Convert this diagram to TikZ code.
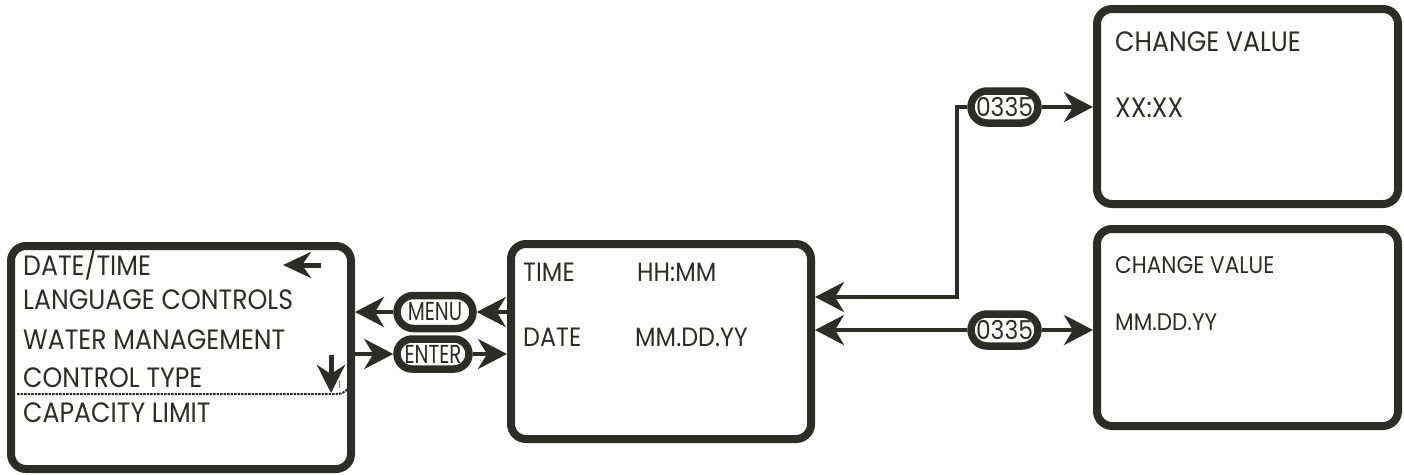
\documentclass[tikz,border=0pt]{standalone}
\usepackage{fontspec}
\setmainfont[FakeStretch=0.9]{Poppins}
\newfontfamily\pillfont[FakeStretch=0.76]{Poppins}
\newfontfamily\codefont[FakeStretch=0.9]{Poppins}
\usepackage{tikz}
\usetikzlibrary{arrows.meta,positioning,shapes.misc,calc}
\definecolor{inkdark}{RGB}{45,45,40}

\begin{document}
\begin{tikzpicture}[x=1pt,y=-1pt,
  screen/.style={draw=inkdark,line width=8pt,rounded corners=15pt,inner sep=0pt},
  key/.style={draw=inkdark,line width=7.5pt,rounded rectangle,inner sep=0pt,
              minimum height=33pt,fill=white,text=inkdark,font=\pillfont\fontsize{26}{28}\selectfont},
  link/.style={draw=inkdark,line width=4.5pt,-{Stealth[length=29pt,width=30pt,inset=9pt]}},
  txt/.style={anchor=west,inner sep=0pt,text=inkdark},
  every node/.style={font=\fontsize{26.5}{28}\selectfont}]

  \useasboundingbox (0,0) rectangle (1404,474);

  % Screens
  \node[screen,minimum width=340pt,minimum height=223pt] (menu) at (181,357.5) {};
  \node[screen,minimum width=300pt,minimum height=195pt] (clock) at (661,341.5) {};
  \node[screen,minimum width=301pt,minimum height=195pt] (settime) at (1247.5,106.5) {};
  \node[screen,minimum width=301pt,minimum height=197pt] (setdate) at (1247.5,327.5) {};

  % Menu list
  \begin{scope}[every node/.style={font=\fontsize{28}{30}\selectfont}]
    \node[txt] (item1) at (23,265) {DATE/TIME};
    \node[txt] (item2) at (23,300) {LANGUAGE CONTROLS};
    \node[txt] (item3) at (23,340) {WATER MANAGEMENT};
    \node[txt] (item4) at (23,378) {CONTROL TYPE};
    \node[txt] (item5) at (23,413) {CAPACITY LIMIT};
  \end{scope}
  \node[txt,text=inkdark!70,font=\fontsize{10}{11}\selectfont] (page) at (338,385) {1};
  \draw[inkdark,line width=5pt,-{Stealth[length=28pt,width=26pt,inset=9pt]}] (321,265) -- (283,265);
  \draw[inkdark,line width=5pt,-{Stealth[length=28pt,width=28pt,inset=9pt]}] (331,355) -- (331,393);
  \draw[inkdark,line width=2pt,dash pattern=on 2.5pt off 1pt]
    (17,394) -- (336,394) to[out=0,in=-120] (348,388);

  % Clock screen
  \node[txt] (tlabel) at (523,272) {TIME};
  \node[txt] (tvalue) at (637,272) {HH:MM};
  \node[txt] (dlabel) at (523,337) {DATE};
  \node[txt] (dvalue) at (635,337) {MM.DD.YY};

  % Change value screens
  \node[txt,font=\fontsize{28}{30}\selectfont] (cvtop) at (1115,42) {CHANGE VALUE};
  \node[txt,font=\fontsize{28}{30}\selectfont] (xx) at (1115,108) {XX:XX};
  \node[txt,font=\fontsize{24}{26}\selectfont] (cvbot) at (1115,265) {CHANGE VALUE};
  \node[txt,font=\fontsize{24}{26}\selectfont] (mdy) at (1115,322) {MM.DD.YY};

  % Keys
  \node[key,minimum width=76pt] (menukey) at (435,312) {MENU};
  \node[key,minimum width=72pt,minimum height=30pt] (enterkey) at (433,354) {ENTER};
  \node[key,minimum width=67pt,minimum height=32pt,font=\codefont\fontsize{26}{28}\selectfont] (codeA) at (1004.5,107) {0335};
  \node[key,minimum width=67pt,minimum height=32pt,font=\codefont\fontsize{26}{28}\selectfont] (codeB) at (1004.5,330) {0335};

  % Connectors
  \draw[link] (menukey -| clock.west) -- (menukey.east);
  \draw[link] (menukey.west) -- (menukey -| menu.east);
  \draw[link] (enterkey -| menu.east) -- (enterkey.west);
  \draw[link] (enterkey.east) -- (enterkey -| clock.west);
  \coordinate (turn) at (957,297);
  \draw[link] (codeA.west) -| (turn) -- (turn -| clock.east);
  \draw[link] (codeA.east) -- (codeA -| settime.west);
  \draw[link] (codeB.west) -- (codeB -| clock.east);
  \draw[link] (codeB.east) -- (codeB -| setdate.west);

\end{tikzpicture}
\end{document}
